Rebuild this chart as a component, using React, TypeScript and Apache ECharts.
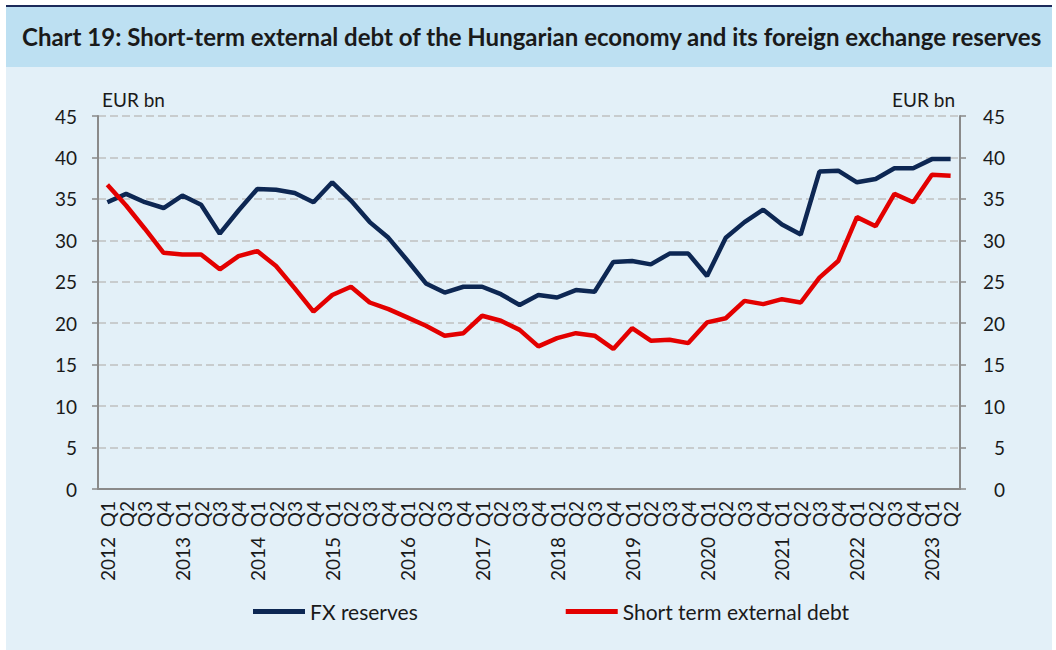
import React, { useEffect, useRef } from "react";
import * as echarts from "echarts";

const years = ["2012", "2013", "2014", "2015", "2016", "2017", "2018", "2019", "2020", "2021", "2022", "2023"];
const quarters = ["Q1", "Q2", "Q3", "Q4"];

const fxReserves = [
  34.6, 35.6, 34.6, 33.9, 35.4, 34.3, 30.8, 33.6, 36.2, 36.1, 35.7, 34.6,
  37.0, 34.8, 32.2, 30.3, 27.6, 24.8, 23.7, 24.4, 24.4, 23.5, 22.2, 23.4,
  23.1, 24.0, 23.8, 27.4, 27.5, 27.1, 28.4, 28.4, 25.7, 30.3, 32.2, 33.7,
  31.9, 30.7, 38.3, 38.4, 37.0, 37.4, 38.7, 38.7, 39.8, 39.8,
];

const shortTermDebt = [
  36.7, 34.2, 31.4, 28.5, 28.3, 28.3, 26.5, 28.1, 28.7, 26.9, 24.2, 21.4,
  23.4, 24.4, 22.5, 21.7, 20.7, 19.7, 18.5, 18.8, 20.9, 20.3, 19.2, 17.2,
  18.2, 18.8, 18.5, 16.9, 19.4, 17.9, 18.0, 17.6, 20.1, 20.6, 22.7, 22.3,
  22.9, 22.5, 25.5, 27.5, 32.8, 31.7, 35.6, 34.6, 37.9, 37.8,
];

const categories: string[] = [];
years.forEach((y) =>
  quarters.forEach((q) => {
    if (categories.length < fxReserves.length) categories.push(q === "Q1" ? `${y}  ${q}` : q);
  })
);

const titleText = "Chart 19: Short-term external debt of the Hungarian economy and its foreign exchange reserves";
const unitText = "EUR bn";
const seriesNames = ["FX reserves", "Short term external debt"];

const FONT = "Lato, 'Noto Sans', sans-serif";

export default function App() {
  const ref = useRef<HTMLDivElement>(null);
  useEffect(() => {
    if (!ref.current) return;
    const chart = echarts.init(ref.current, undefined, { renderer: "svg" });
    const axisColor = "#8a8a8a";
    const labelStyle = { color: "#1a1a1a", fontFamily: FONT, fontSize: 19 };
    chart.setOption({
      animation: false,
      backgroundColor: "transparent",
      textStyle: { fontFamily: FONT },
      title: {
        text: titleText,
        left: 22,
        top: 24,
        padding: 0,
        textStyle: { fontFamily: FONT, fontSize: 24, fontWeight: "bold", color: "#1a1a1a" },
      },
      grid: { left: 98, right: 96, top: 116, bottom: 161, containLabel: false },
      legend: {
        data: seriesNames,
        left: 248,
        top: 596,
        icon: "rect",
        itemWidth: 52,
        itemHeight: 5,
        itemGap: 148,
        textStyle: { ...labelStyle, fontSize: 21 },
      },
      graphic: [
        { type: "text", left: 102, top: 90, style: { text: unitText, fill: "#1a1a1a", font: `19px ${FONT}` } },
        { type: "text", right: 101, top: 90, style: { text: unitText, fill: "#1a1a1a", font: `19px ${FONT}` } },
      ],
      xAxis: {
        type: "category",
        data: categories,
        boundaryGap: true,
        axisLine: { lineStyle: { color: axisColor, width: 2 } },
        axisTick: { show: false },
        axisLabel: { ...labelStyle, rotate: 90, interval: 0, margin: 12 },
      },
      yAxis: [
        {
          type: "value",
          min: 0,
          max: 45,
          interval: 5,
          position: "left",
          axisLine: { show: true, lineStyle: { color: axisColor, width: 2 } },
          axisTick: { show: true, length: 6, lineStyle: { color: axisColor, width: 1.5 } },
          axisLabel: { ...labelStyle, margin: 21 },
          splitLine: { show: true, lineStyle: { color: "#c0c0c0", width: 1.5, type: [8, 4] } },
        },
        {
          type: "value",
          min: 0,
          max: 45,
          interval: 5,
          position: "right",
          axisLine: { show: true, lineStyle: { color: axisColor, width: 2 } },
          axisTick: { show: true, length: 6, lineStyle: { color: axisColor, width: 1.5 } },
          axisLabel: { ...labelStyle, margin: 45, align: "right" },
          splitLine: { show: false },
        },
      ],
      series: [
        {
          name: seriesNames[0],
          type: "line",
          data: fxReserves,
          yAxisIndex: 0,
          showSymbol: false,
          symbol: "none",
          lineStyle: { color: "#0d2753", width: 4.5 },
          itemStyle: { color: "#0d2753" },
        },
        {
          name: seriesNames[1],
          type: "line",
          data: shortTermDebt,
          yAxisIndex: 1,
          showSymbol: false,
          symbol: "none",
          lineStyle: { color: "#e30000", width: 4.5 },
          itemStyle: { color: "#e30000" },
        },
      ],
    });
    return () => chart.dispose();
  }, []);

  return (
    <div style={{ position: "absolute", left: 0, top: 0, width: 1056, height: 650, background: "#ffffff", overflow: "hidden" }}>
      <div style={{ position: "absolute", left: 6, top: 5, width: 1046, height: 645, background: "#e3f0f8" }} />
      <div style={{ position: "absolute", left: 6, top: 5, width: 1046, height: 2, background: "#1c2a5a" }} />
      <div style={{ position: "absolute", left: 6, top: 7, width: 1046, height: 60, background: "#bde0f2" }} />
      <div ref={ref} style={{ position: "absolute", left: 0, top: 0, width: 1056, height: 650 }} />
    </div>
  );
}
